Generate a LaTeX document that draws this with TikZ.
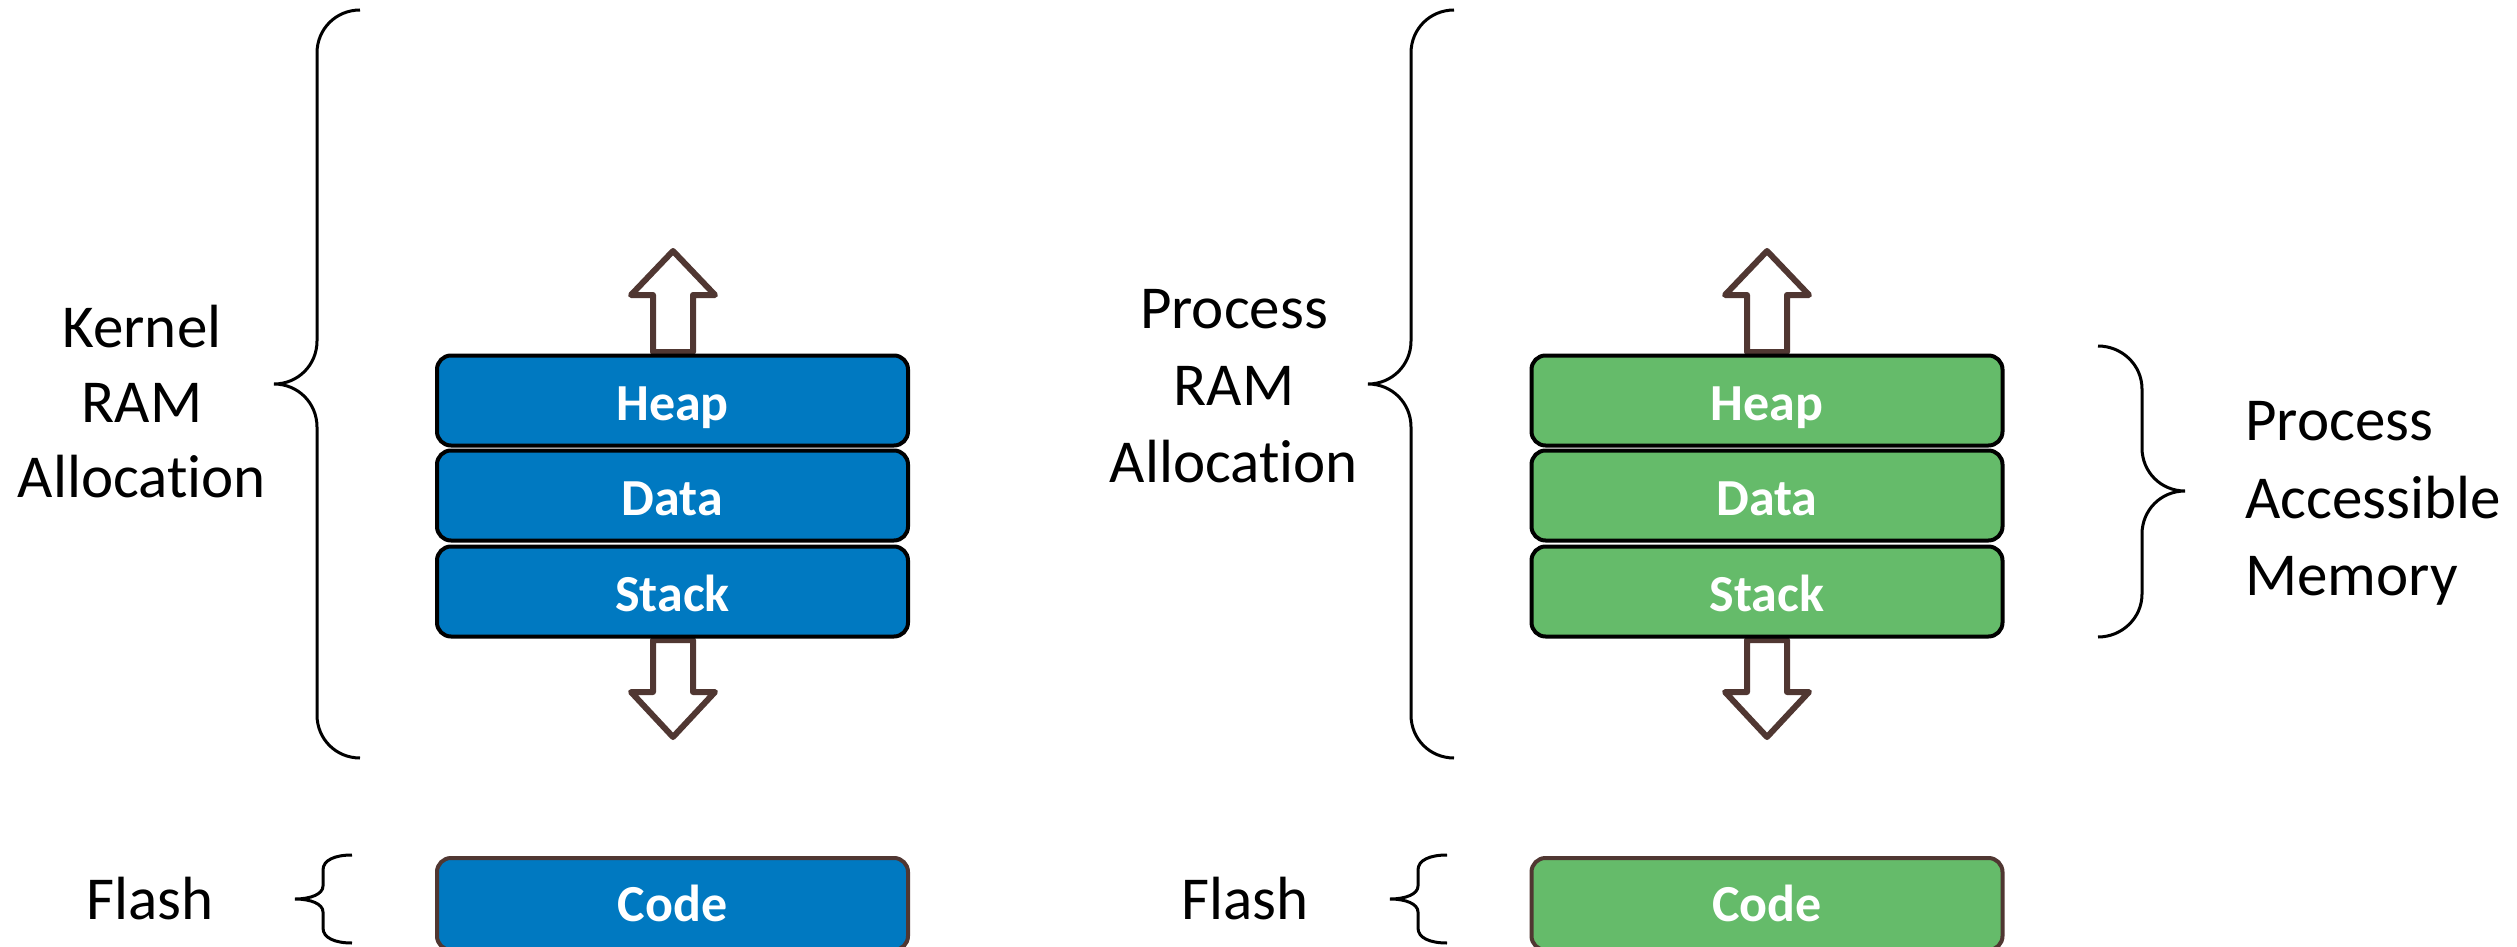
\documentclass[tikz,border=0pt]{standalone}
\usepackage{fontspec}
\setmainfont{Carlito}[Ligatures=NoCommon]
\definecolor{memblue}{RGB}{0,121,193}
\definecolor{memgreen}{RGB}{101,187,106}
\definecolor{arrowbrown}{RGB}{80,55,50}
\begin{document}
\begin{tikzpicture}[x=1pt,y=-1pt,
  seg/.style={draw=black, line width=4pt, rounded corners=14pt,
    minimum width=471pt, minimum height=90pt, inner sep=0pt, outer sep=0pt},
  seglabel/.style={text=white, inner sep=0pt, anchor=base,
    font=\fontsize{52}{60}\selectfont\bfseries},
  codebox/.style={seg, draw=arrowbrown, minimum height=92pt},
  lbl/.style={font=\fontsize{61}{76}\selectfont, anchor=base, inner sep=0pt},
  lblw/.style={lbl, anchor=base west},
  brace/.style={draw=black, line width=3pt},
  blockarrow/.style={draw=arrowbrown, fill=white, line width=6pt, line join=round}]
\useasboundingbox[fill=white] (0,0) rectangle (2517,947);

% ---------- left: kernel ----------
\draw[blockarrow] (653,352) -- (653,295) -- (631,295) -- (673,251) -- (715,295) -- (693,295) -- (693,352) -- cycle;
\draw[blockarrow] (653,640) -- (653,692) -- (631,692) -- (673,737) -- (715,692) -- (693,692) -- (693,640) -- cycle;

\node[seg, fill=memblue] (kheap) at (672.5,400.5) {};
\node[seg, fill=memblue] (kdata) at (672.5,495.5) {};
\node[seg, fill=memblue] (kstack) at (672.5,591.5) {};
\node[codebox, fill=memblue] (kcode) at (672.5,904) {};
\node[seglabel] (kheapt) at ([yshift=-20pt]kheap.center) {Heap};
\node[seglabel] (kdatat) at ([yshift=-20pt]kdata.center) {Data};
\node[seglabel] (kstackt) at ([yshift=-20pt]kstack.center) {Stack};
\node[seglabel] (kcodet) at (672.5,921) {Code};

\draw[brace] (360,10) .. controls (336,10) and (317,29) .. (317,53) -- (317,341)
  .. controls (317,365) and (298,384) .. (274,384)
  .. controls (298,384) and (317,403) .. (317,427) -- (317,715)
  .. controls (317,739) and (336,758) .. (360,758);

\node[lbl] (kl1) at (142,347) {Kernel};
\node[lbl] (kl2) at (142,422) {RAM};
\node[lbl] (kl3) at (142,497) {Allocation};

\draw[brace] (352,855) .. controls (335,855) and (323,860) .. (323,870) -- (323,886)
  .. controls (323,894) and (311,899) .. (295,899)
  .. controls (311,899) and (323,904) .. (323,912) -- (323,928)
  .. controls (323,938) and (335,943) .. (352,943);
\node[lbl] (kflash) at (150,919) {Flash};

% ---------- right: process ----------
\draw[blockarrow] (1747,352) -- (1747,295) -- (1725,295) -- (1767,251) -- (1809,295) -- (1787,295) -- (1787,352) -- cycle;
\draw[blockarrow] (1747,640) -- (1747,692) -- (1725,692) -- (1767,737) -- (1809,692) -- (1787,692) -- (1787,640) -- cycle;

\node[seg, fill=memgreen] (pheap) at (1767,400.5) {};
\node[seg, fill=memgreen] (pdata) at (1767,495.5) {};
\node[seg, fill=memgreen] (pstack) at (1767,591.5) {};
\node[codebox, fill=memgreen] (pcode) at (1767,904) {};
\node[seglabel] (pheapt) at ([yshift=-20pt]pheap.center) {Heap};
\node[seglabel] (pdatat) at ([yshift=-20pt]pdata.center) {Data};
\node[seglabel] (pstackt) at ([yshift=-20pt]pstack.center) {Stack};
\node[seglabel] (pcodet) at (1767,921) {Code};

\draw[brace] (1454,10) .. controls (1430,10) and (1411,29) .. (1411,53) -- (1411,341)
  .. controls (1411,365) and (1392,384) .. (1368,384)
  .. controls (1392,384) and (1411,403) .. (1411,427) -- (1411,715)
  .. controls (1411,739) and (1430,758) .. (1454,758);

\node[lbl] (pl1) at (1234,328) {Process};
\node[lbl] (pl2) at (1234,405) {RAM};
\node[lbl] (pl3) at (1234,482) {Allocation};

\draw[brace] (1447,855) .. controls (1430,855) and (1418,860) .. (1418,870) -- (1418,886)
  .. controls (1418,894) and (1406,899) .. (1390,899)
  .. controls (1406,899) and (1418,904) .. (1418,912) -- (1418,928)
  .. controls (1418,938) and (1430,943) .. (1447,943);
\node[lbl] (pflash) at (1245,919) {Flash};

\draw[brace] (2098,346) .. controls (2122,346) and (2142,365) .. (2142,389) -- (2142,448)
  .. controls (2142,472) and (2161,491) .. (2185,491)
  .. controls (2161,491) and (2142,510) .. (2142,534) -- (2142,594)
  .. controls (2142,618) and (2122,637) .. (2098,637);

\node[lblw] (am1) at (2245,440) {Process};
\node[lblw] (am2) at (2245,518) {Accessible};
\node[lblw] (am3) at (2245,595) {Memory};
\end{tikzpicture}
\end{document}
